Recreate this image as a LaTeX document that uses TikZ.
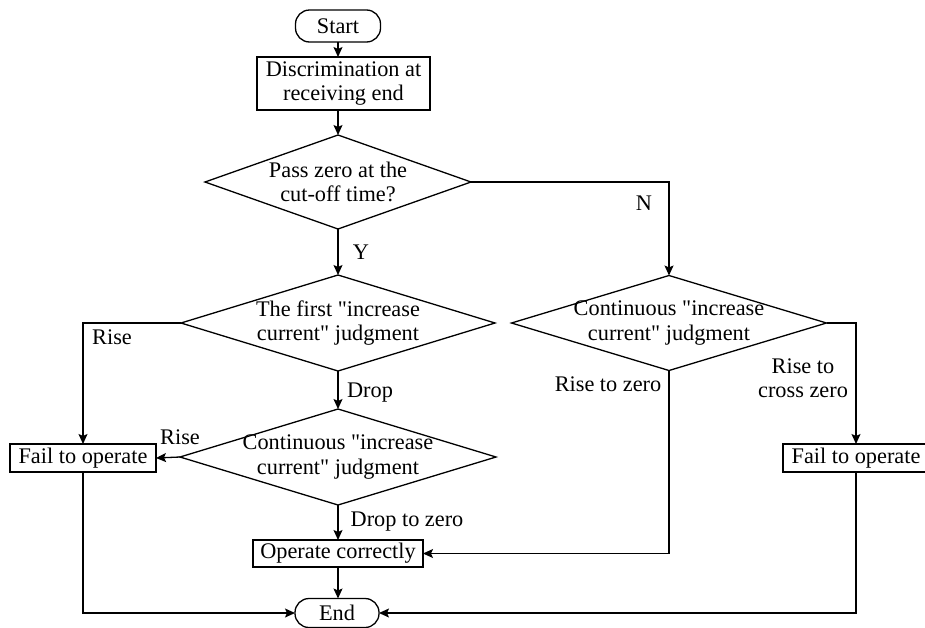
\documentclass[tikz,border=0pt]{standalone}
\usepackage{fontspec}
\setmainfont{Liberation Serif}
\newcommand{\sq}{\XeTeXglyph\XeTeXcharglyph"22\relax}
\usetikzlibrary{shapes.geometric,arrows.meta}
\begin{document}
\begin{tikzpicture}[x=1pt,y=-1pt,
  font=\fontsize{22.3}{24.3}\selectfont,
  line width=1.3pt,
  >={Stealth[length=10pt,width=9pt,inset=2pt]},
  box/.style={draw,rectangle,inner sep=0pt,outer sep=0pt,align=center},
  term/.style={draw,rectangle,rounded corners=14pt,inner sep=0pt,outer sep=0pt,align=center},
  dia/.style={draw,diamond,inner sep=0pt,outer sep=0pt},
  txt/.style={align=center,inner sep=0pt},
  lbl/.style={align=center,inner sep=0pt}]
\useasboundingbox (0,0) rectangle (925,627);
% nodes
\node[term,minimum width=85pt,minimum height=32pt] (start) at (338,26) {Start};
\node[box,minimum width=173pt,minimum height=53pt] (disc) at (343.5,83.5) {Discrimination at\\receiving end};
\node[dia,minimum width=266pt,minimum height=94pt] (d1) at (338,182) {};
\node[txt] (t1) at (d1) {Pass zero at the\\cut-off time?};
\node[dia,minimum width=314pt,minimum height=96pt] (d2) at (338,323) {};
\node[txt] (t2) at (d2) {The first \sq increase\\current\sq{} judgment};
\node[dia,minimum width=316pt,minimum height=96pt] (d3) at (338,457) {};
\node[txt] (t3) at (d3) {Continuous \sq increase\\current\sq{} judgment};
\node[dia,minimum width=315pt,minimum height=95pt] (d4) at (669,323) {};
\node[txt] (t4) at (d4) {Continuous \sq increase\\current\sq{} judgment};
\node[box,minimum width=146pt,minimum height=28pt] (fail1) at (83,458) {Fail to operate};
\node[box,minimum width=146pt,minimum height=28pt] (fail2) at (856,458) {Fail to operate};
\node[box,minimum width=170pt,minimum height=27pt] (op) at (338,553.5) {Operate correctly};
\node[term,minimum width=84pt,minimum height=29pt] (end) at (337,613) {End};
% labels
\node[lbl] (lY) at (361,252) {Y};
\node[lbl] (lN) at (644,203) {N};
\node[lbl] (lRise1) at (112,337) {Rise};
\node[lbl] (lDrop) at (370,393) {Drop};
\node[lbl] (lRise2) at (180,437) {Rise};
\node[lbl] (lDz) at (407,522) {Drop to zero};
\node[lbl] (lRz) at (608,384) {Rise to zero};
\node[lbl] (lRcz) at (803,378) {Rise to\\cross zero};
% connectors
\draw[->] (start.south) -- (start.south |- disc.north);
\draw[->] (d1.north |- disc.south) -- (d1.north);
\draw[->] (d1.south) -- (d2.north);
\draw[->] (d2.south) -- (d3.north);
\draw[->] (d3.south) -- (op.north);
\draw[->] (op.south) -- (op.south |- end.north);
\draw[->] (d1.east) -| (d4.north);
\draw[->] (d2.west) -| (fail1.north);
\draw[->] (d3.west) -- (fail1.east);
\draw[->] (d4.south) |- (op.east);
\draw[->] (d4.east) -| (fail2.north);
\draw[->] (fail1.south) |- (end.west);
\draw[->] (fail2.south) |- (end.east);
\end{tikzpicture}
\end{document}
